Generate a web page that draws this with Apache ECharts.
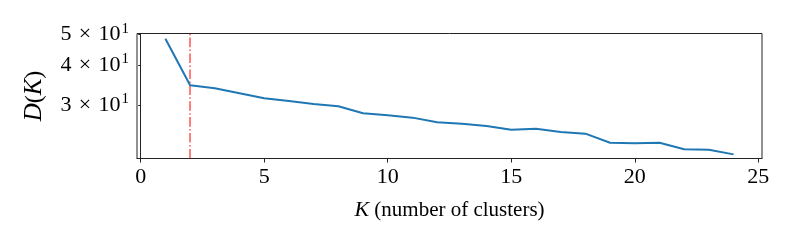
<!DOCTYPE html>
<html><head><meta charset="utf-8">
<script src="https://cdn.jsdelivr.net/npm/echarts@6/dist/echarts.min.js"></script>
<style>html,body{margin:0;padding:0;background:#fff}#c{width:797px;height:249px}</style>
</head><body><div id="c"></div>
<script>
const kValues = [1,2,3,4,5,6,7,8,9,10,11,12,13,14,15,16,17,18,19,20,21,22,23,24];
const dValues = [48.5,34.65,33.9,32.7,31.55,30.9,30.25,29.75,28.3,27.9,27.4,26.5,26.2,25.8,25.1,25.3,24.7,24.4,22.85,22.75,22.85,21.8,21.7,21.0];
const elbowK = 2;
const xTicks = [0,5,10,15,20,25];
const yTicks = [30,40,50];
const serif = "'Liberation Serif','DejaVu Serif',serif";
const chart = echarts.init(document.getElementById('c'), null, {renderer:'canvas'});
chart.setOption({
  animation:false,
  grid:{left:137,right:35,top:33.5,bottom:90.5,show:true,borderColor:'#222',borderWidth:1,backgroundColor:'transparent'},
  xAxis:{type:'value',min:-0.15,max:25.15,
    name:'{i|K} (number of clusters)',nameLocation:'middle',nameGap:41,
    nameTextStyle:{fontFamily:serif,fontSize:21,color:'#000',rich:{i:{fontFamily:serif,fontSize:22,fontStyle:'italic',color:'#000'}}},
    axisLine:{show:true,onZero:false,lineStyle:{color:'#222',width:1}},
    axisTick:{show:true,length:4,customValues:xTicks,lineStyle:{color:'#222'}},
    axisLabel:{customValues:xTicks,margin:8,fontFamily:serif,fontSize:22,color:'#000'},
    splitLine:{show:false}},
  yAxis:{type:'log',logBase:10,min:20.38,max:50.4,
    name:'{i|D}({i|K})',nameLocation:'middle',nameGap:90,nameRotate:90,
    nameTextStyle:{fontFamily:serif,fontSize:24,color:'#000',rich:{i:{fontFamily:serif,fontSize:25,fontStyle:'italic',color:'#000'}}},
    axisLine:{show:true,lineStyle:{color:'#222',width:1}},
    axisTick:{show:true,length:2.5,customValues:yTicks,lineStyle:{color:'#222'}},
    axisLabel:{customValues:yTicks,margin:8,
      formatter:function(v){return '{a|'+Math.round(v/10)+'\u2004×\u200410}{s|1}';},
      rich:{a:{fontFamily:serif,fontSize:22,color:'#000'},s:{fontFamily:serif,fontSize:15,color:'#000',verticalAlign:'top',padding:[0,0,12,1]}}},
    splitLine:{show:false},minorTick:{show:false},minorSplitLine:{show:false}},
  series:[
    {type:'line',data:kValues.map((k,i)=>[k,dValues[i]]),showSymbol:false,symbol:'none',
     lineStyle:{color:'#1f77b4',width:2},z:3,
     markLine:{silent:true,symbol:'none',label:{show:false},
       lineStyle:{color:'rgba(255,0,0,0.5)',width:2,type:[9.6,2.4,1.5,2.4]},
       data:[{xAxis:elbowK}],z:2}}
  ]
});
</script></body></html>
